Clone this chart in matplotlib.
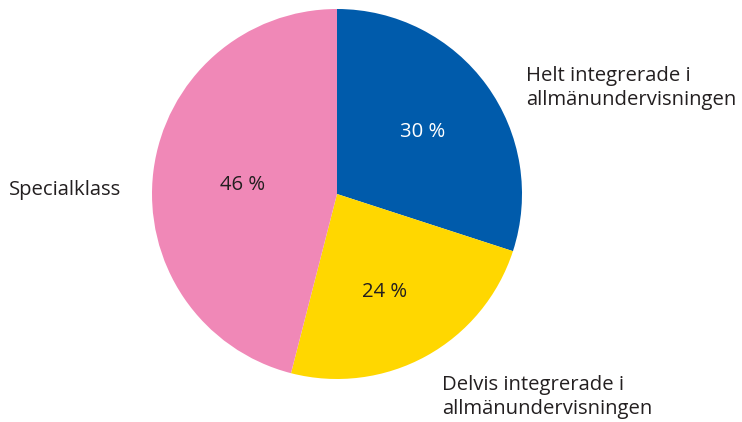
import matplotlib
matplotlib.use("Agg")
import matplotlib.pyplot as plt

# Andel elever per skolform
categories = ["Helt integrerade i\nallmänundervisningen",
              "Delvis integrerade i\nallmänundervisningen",
              "Specialklass"]
shares = [30, 24, 46]
colors = ["#005BAB", "#FFD700", "#F088B7"]
pct_colors = ["white", "#231F20", "#231F20"]

W, H = 742, 422
fig = plt.figure(figsize=(W / 100, H / 100), dpi=100)
ax = fig.add_axes([0, 0, 1, 1])

cx, cy, r = 337, H - 194, 185
wedges, texts = ax.pie(shares, colors=colors, startangle=90, counterclock=False,
                       center=(cx, cy), radius=r, frame=True)
ax.set_xlim(0, W)
ax.set_ylim(0, H)
ax.set_aspect("equal")
ax.axis("off")

font = "Open Sans"
txt = "#231F20"
fs = 14.6

# procentetiketter inne i sektorerna
pct_pos = [(423, 132), (385, 292), (243, 185)]
for v, (x, y), c in zip(shares, pct_pos, pct_colors):
    ax.text(x, H - y, f"{v} %", color=c, fontsize=fs, family=font,
            ha="center", va="center")

# kategorinamn utanför cirkeln
ax.text(526, H - 88, categories[0], color=txt, fontsize=fs, family=font,
        ha="left", va="center", linespacing=1.25)
ax.text(442, H - 397, categories[1], color=txt, fontsize=fs, family=font,
        ha="left", va="center", linespacing=1.25)
ax.text(9, H - 190, categories[2], color=txt, fontsize=fs, family=font,
        ha="left", va="center")

fig.savefig("out.png", dpi=100)
